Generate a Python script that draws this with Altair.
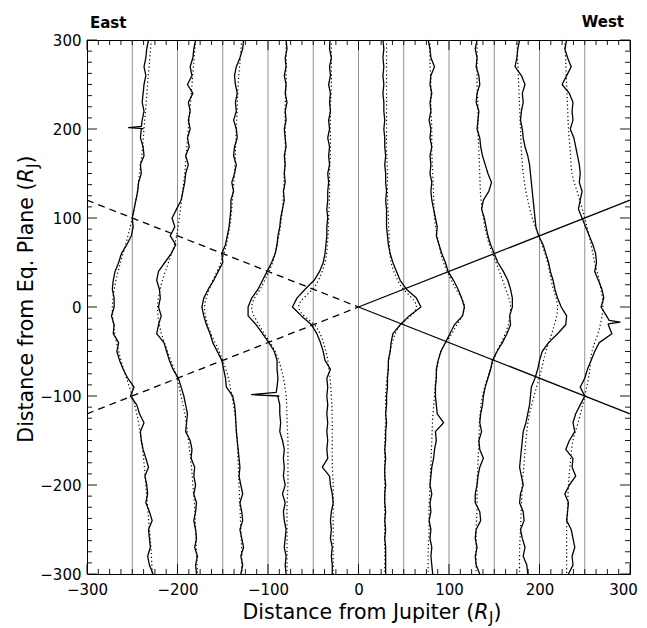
import altair as alt
import pandas as pd

# ---------------- data ----------------
# y positions (R_J) at which the measured (solid) profiles were read
Y_SOLID = list(range(300, -301, -10))

# measured profiles: x position (R_J) at each Y_SOLID value
P_M250 = [-232, -234, -235, -237, -235, -237, -238, -239, -237, -239, -240, -241, -238, -237, -241, -240,
          -243, -244, -246, -248, -250, -249, -251, -256, -262, -265, -269, -271, -272, -270, -270, -273,
          -270, -271, -265, -267, -264, -260, -255, -248, -252, -245, -242, -237, -241, -240, -238, -235,
          -232, -236, -234, -233, -235, -231, -228, -232, -231, -230, -233, -231, -227]
P_M200 = [-180, -182, -183, -186, -184, -189, -183, -188, -186, -188, -186, -189, -187, -191, -188, -191,
          -192, -194, -196, -201, -206, -203, -208, -202, -207, -214, -221, -223, -220, -219, -221, -218,
          -221, -223, -215, -212, -209, -205, -199, -196, -193, -191, -189, -190, -191, -186, -184, -185,
          -181, -182, -180, -182, -179, -180, -182, -180, -179, -181, -178, -180, -179]
P_M150 = [-127, -128, -131, -135, -137, -136, -134, -136, -135, -138, -135, -134, -137, -138, -135, -137,
          -140, -138, -141, -141, -142, -143, -145, -147, -151, -150, -155, -160, -166, -171, -173, -171,
          -168, -164, -161, -156, -151, -149, -147, -146, -139, -137, -136, -135.5, -135, -134, -133, -132,
          -131, -132, -130, -128, -131, -129, -128, -131, -129, -127, -130, -128, -130]
P_M100 = [-80, -79, -81, -80, -82, -80, -81, -79, -81, -80, -82, -81, -80, -82, -81, -82,
          -81, -83, -82, -84, -86, -87, -89, -90, -92, -96, -101, -106, -111, -118, -122, -122,
          -113, -106, -99, -93, -90, -90, -89, -90, -88, -87, -87, -86, -87, -84, -82, -83,
          -82, -83, -81, -84, -81, -83, -82, -80, -81, -82, -80, -81, -80]
P_M50 = [-31.5, -32, -30, -32, -31, -33, -31, -32, -31, -33, -32, -34, -32, -33, -32, -34,
         -33, -34, -34, -35, -34, -35, -35, -36, -37, -39, -43, -49, -59, -68, -73, -63,
         -52, -46, -42, -39, -37, -31, -35, -34, -35, -34, -35, -34, -35, -34, -35, -34,
         -40, -32, -31, -29, -28, -30, -31, -30, -31, -29, -30, -29, -29]
P_P50 = [27, 28, 27, 28, 27, 28, 27, 28, 28, 29, 28, 29, 29, 30, 29, 30,
         30, 31, 30, 31, 31, 31, 32, 33, 35, 38, 42, 46, 53, 64, 69, 56,
         46, 38, 36, 35, 33, 33, 32, 32, 31, 31, 30, 31, 30, 30, 29, 30,
         29, 29, 30, 29, 29, 30, 29, 30, 29, 30, 30, 30, 30]
P_P100 = [77, 79, 80, 84, 80, 79, 81, 79, 80, 78, 80, 79, 81, 79, 80, 79,
          81, 80, 81, 83, 85, 87, 86, 89, 92, 96, 99, 105, 110, 114, 117, 115,
          106, 101, 96, 91, 88, 86, 86, 85, 85, 86, 87, 94, 85, 86, 84, 83,
          81, 80, 79, 81, 79, 80, 78, 80, 79, 81, 80, 81, 82]
P_P150 = [131, 129, 131, 130, 133, 134, 131, 130, 133, 132, 131, 134, 135, 137, 140, 143,
          147, 144, 138, 136, 139, 141, 143, 146, 150, 154, 160, 165, 168, 170, 170, 167,
          168, 164, 159, 153, 148, 146, 143, 140, 138, 137, 135, 134, 136, 133, 134, 138,
          134, 132, 131, 129, 129, 134, 135, 130, 129, 131, 129, 130, 134]
P_P200 = [178, 176, 175, 173, 180, 184, 181, 182, 180, 179, 181, 182, 184, 187, 189, 190,
          191, 192, 193, 194, 195, 196, 199, 204, 207, 210, 212, 215, 217, 220, 224, 230,
          229, 220, 210, 203, 200, 198, 195, 191, 190, 189, 187, 185, 182, 181, 180, 179,
          178, 180, 182, 179, 178, 182, 183, 179, 181, 184, 182, 186, 187]
P_P250 = [230, 228, 231, 235, 230, 225, 233, 237, 236, 237, 234, 238, 240, 242, 244, 245,
          244, 247, 245, 243, 247, 251, 255, 259, 262, 263, 261, 265, 269, 271, 268, 274,
          276, 280, 266, 261, 257, 253, 250, 245, 250, 245, 240, 237, 239, 233, 229, 237,
          236, 240, 233, 228, 232, 231, 230, 235, 237, 239, 236, 237, 232]

# narrow spikes in the measured profiles: (profile, y, x)
SPIKES = [("-250", 203, -240), ("-250", 201.5, -254), ("-250", 200.5, -238),
          ("-100", -96, -91), ("-100", -98.5, -118), ("-100", -101, -89),
          ("250", -15, 277), ("250", -17, 289), ("250", -19, 276)]

# y positions (R_J) at which the dotted (model) profiles were read
Y_MODEL = list(range(300, -301, -25))
M_M250 = [-229, -231, -233, -235, -237, -239, -242, -245, -250, -256, -263, -269, -272,
          -270, -265, -258, -250, -244, -240, -237, -235, -233, -231, -229, -228]
M_M200 = [-180, -182, -184, -186, -188, -190, -192, -195, -198, -202, -210, -218, -222,
          -219, -211, -202, -196, -191, -188, -185, -183, -181, -180, -179, -178]
M_M150 = [-129, -131, -133, -134, -135, -136, -137, -139, -141, -145, -152, -163, -170,
          -165, -154, -145, -140, -136, -134, -133, -132, -131, -130, -129, -129]
M_M100 = [-80, -80, -80, -81, -81, -81, -82, -83, -85, -89, -95, -106, -118,
          -107, -92, -84, -80, -79, -78, -78, -78, -79, -79, -79, -79]
M_M50 = [-30, -30, -30, -31, -31, -31, -32, -32, -33, -34, -37, -47, -66,
         -45, -36, -32, -30, -29, -29, -29, -28, -28, -28, -28, -28]
M_P50 = [31, 31, 31, 31, 31, 31, 32, 32, 33, 34, 36, 46, 64,
         43, 35, 32, 30, 30, 29, 29, 29, 29, 29, 29, 29]
M_P100 = [79, 79, 80, 80, 81, 81, 82, 83, 84, 88, 94, 105, 117,
          106, 91, 86, 84, 82, 81, 80, 79, 78, 78, 77, 77]
M_P150 = [131, 131, 131, 132, 132, 133, 134, 135, 138, 143, 152, 161, 168,
          164, 153, 144, 137, 134, 133, 132, 131, 131, 130, 130, 130]
M_P200 = [175, 176, 177, 178, 179, 180, 182, 186, 192, 201, 209, 214, 220,
          215, 207, 201, 194, 188, 185, 183, 181, 180, 179, 178, 178]
M_P250 = [228, 229, 230, 231, 232, 234, 236, 243, 250, 256, 261, 267, 270,
          266, 258, 255, 250, 244, 237, 234, 232, 231, 230, 230, 230]

PROFILE_NAMES = ["-250", "-200", "-150", "-100", "-50", "50", "100", "150", "200", "250"]
SOLID = [P_M250, P_M200, P_M150, P_M100, P_M50, P_P50, P_P100, P_P150, P_P200, P_P250]
MODEL = [M_M250, M_M200, M_M150, M_M100, M_M50, M_P50, M_P100, M_P150, M_P200, M_P250]

# reference meridians
VLINE_X = [-250, -200, -150, -100, -50, 0, 50, 100, 150, 200, 250]

# the two crossing lines: dashed on the east half, solid on the west half
RAY_ENDS_X = [-300, 0, 300]
RAY_A_Y = [120, 0, -120]
RAY_B_Y = [-120, 0, 120]

MAJOR_TICKS = [-300, -200, -100, 0, 100, 200, 300]
MINOR_TICKS = [t / 2 for t in range(-600, 601, 25) if (t / 2) % 100 != 0]

# ---------------- tables ----------------
rows = []
for name, xs in zip(PROFILE_NAMES, SOLID):
    pts = list(zip(Y_SOLID, xs)) + [(y, x) for (p, y, x) in SPIKES if p == name]
    pts.sort(key=lambda p: -p[0])
    for i, (y, x) in enumerate(pts):
        rows.append({"profile": name, "seq": i, "x": x, "y": y})
solid_df = pd.DataFrame(rows)

rows = []
for name, xs in zip(PROFILE_NAMES, MODEL):
    for i, (y, x) in enumerate(zip(Y_MODEL, xs)):
        rows.append({"profile": name, "seq": i, "x": x, "y": y})
model_df = pd.DataFrame(rows)

ray_dash = pd.DataFrame({
    "seg": ["a", "a", "b", "b"],
    "x": [RAY_ENDS_X[0], RAY_ENDS_X[1], RAY_ENDS_X[0], RAY_ENDS_X[1]],
    "y": [RAY_A_Y[0], RAY_A_Y[1], RAY_B_Y[0], RAY_B_Y[1]],
})
ray_solid = pd.DataFrame({
    "seg": ["a", "a", "b", "b"],
    "x": [RAY_ENDS_X[1], RAY_ENDS_X[2], RAY_ENDS_X[1], RAY_ENDS_X[2]],
    "y": [RAY_A_Y[1], RAY_A_Y[2], RAY_B_Y[1], RAY_B_Y[2]],
})
vline_df = pd.DataFrame({"x": VLINE_X})
major_df = pd.DataFrame({"t": MAJOR_TICKS})
minor_df = pd.DataFrame({"t": MINOR_TICKS})

# ---------------- chart ----------------
W, H = 543, 534
FONT = "DejaVu Sans"
xscale = alt.Scale(domain=[-300, 300], nice=False, zero=False)
yscale = alt.Scale(domain=[-300, 300], nice=False, zero=False)
xaxis = alt.Axis(values=MAJOR_TICKS, ticks=False, tickSize=0, domain=False, grid=False,
                 labelPadding=8, labelFlush=False, labelOverlap=False, title=None,
                 labelOffset={"condition": {"test": "datum.value === 300", "value": -7}, "value": 0})
yaxis = alt.Axis(values=MAJOR_TICKS, ticks=False, tickSize=0, domain=False, grid=False,
                 labelPadding=6, labelFlush=False, labelOverlap=False, title=None)


def X(field):
    return alt.X(field, type="quantitative", scale=xscale, axis=xaxis)


def Y(field):
    return alt.Y(field, type="quantitative", scale=yscale, axis=yaxis)


vlines = alt.Chart(vline_df).mark_rule(color="#777777", strokeWidth=0.8).encode(x=X("x"))

model = alt.Chart(model_df).mark_line(
    color="black", strokeWidth=1.2, strokeDash=[1.2, 2.6], interpolate="catmull-rom"
).encode(x=X("x"), y=Y("y"), detail="profile:N", order="seq:Q")

solid = alt.Chart(solid_df).mark_line(
    color="black", strokeWidth=1.3, interpolate="linear", strokeJoin="round"
).encode(x=X("x"), y=Y("y"), detail="profile:N", order="seq:Q")

rays_d = alt.Chart(ray_dash).mark_line(color="black", strokeWidth=1.3, strokeDash=[7, 5]).encode(
    x=X("x"), y=Y("y"), detail="seg:N")
rays_s = alt.Chart(ray_solid).mark_line(color="black", strokeWidth=1.3).encode(
    x=X("x"), y=Y("y"), detail="seg:N")

tick_layers = []
for df, ln in ((major_df, 10), (minor_df, 5)):
    base = alt.Chart(df).mark_rule(color="black", strokeWidth=0.9)
    tick_layers.append(base.encode(x=X("t"), y=alt.value(H), y2=alt.value(H - ln)))
    tick_layers.append(base.encode(x=X("t"), y=alt.value(0), y2=alt.value(ln)))
    tick_layers.append(base.encode(y=Y("t"), x=alt.value(0), x2=alt.value(ln)))
    tick_layers.append(base.encode(y=Y("t"), x=alt.value(W), x2=alt.value(W - ln)))


def label(text, x, y, size=20.5, align="left", angle=0, style="normal", weight="normal"):
    return alt.Chart(pd.DataFrame({"t": [text]})).mark_text(
        font=FONT, fontSize=size, align=align, baseline="alphabetic", angle=angle,
        fontStyle=style, fontWeight=weight, color="black"
    ).encode(text="t:N", x=alt.value(x), y=alt.value(y))


texts = [
    label("East", 3, -12, size=15, weight="bold"),
    label("West", 537, -13, size=15, align="right", weight="bold"),
    # x title
    label("Distance from Jupiter (", 387.3, 579, align="right"),
    label("R", 387.3, 579, style="italic"),
    label("J", 402, 583, size=15),
    label(")", 406.5, 579),
    # y title
    label("Distance from Eq. Plane (", -54, 142.5, align="right", angle=270),
    label("R", -54, 142.5, angle=270, style="italic"),
    label("J", -49, 128, size=15, angle=270),
    label(")", -54, 123.5, angle=270),
]

chart = alt.layer(
    vlines, model, solid, rays_d, rays_s, *tick_layers, *texts
).properties(
    width=W, height=H,
    autosize=alt.AutoSizeParams(type="none"),
    padding={"left": 79, "top": 32, "right": 9, "bottom": 54},
    background="white",
).configure_view(
    stroke="black", strokeWidth=1
).configure_axis(
    labelFont=FONT, labelFontSize=15, labelColor="black"
)

chart.save("out.html", embed_options={"renderer": "svg", "actions": False})
